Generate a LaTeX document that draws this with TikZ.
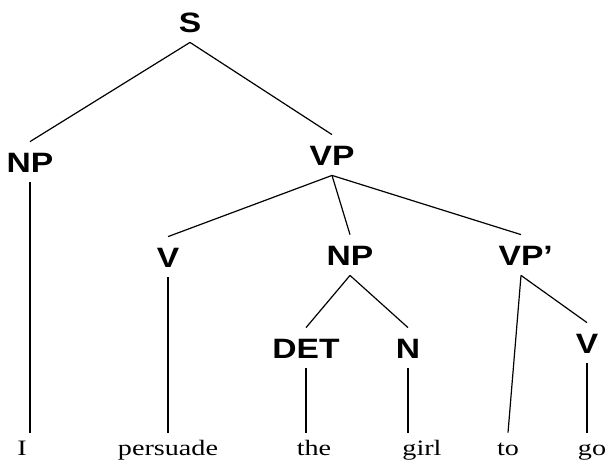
\documentclass[tikz,border=0pt]{standalone}
\usepackage{fontspec}
\newfontfamily\catfont[FakeStretch=1.2]{Liberation Sans}
\newfontfamily\wordfont[FakeStretch=1.28]{Liberation Serif}
\usepackage{tikz}
\tikzstyle{cat} = [font=\catfont\fontsize{14pt}{16pt}\selectfont\bfseries, text height=10pt, text depth=0pt, inner sep=5pt]
\tikzstyle{word} = [font=\wordfont\fontsize{11pt}{13pt}\selectfont, anchor=base, text height=7.5pt, text depth=2pt, inner sep=3.5pt]
\tikzstyle{branch} = [line width=0.6pt]

\begin{document}
\begin{tikzpicture}[x=0.5pt, y=-0.5pt]
  \useasboundingbox (0,0) rectangle (608,463);

  % Categories
  \node[cat] (s)   at (190,22)  {S};
  \node[cat] (np1) at (30,162)  {NP};
  \node[cat] (vp)  at (332,155) {VP};
  \node[cat] (v1)  at (168,257) {V};
  \node[cat] (np2) at (350,255) {NP};
  \node[cat] (vpp) at (521,255) {VP\rlap{’}};
  \node[cat] (det) at (306,348) {DET};
  \node[cat] (n)   at (408,348) {N};
  \node[cat] (v2)  at (587,343) {V};

  % Words
  \node[word] (i)        at (22,455)  {I};
  \node[word] (persuade) at (168,455) {persuade};
  \node[word] (the)      at (314,455) {the};
  \node[word] (girl)     at (422,455) {girl};
  \node[word] (to)       at (508,455) {to};
  \node[word] (go)       at (592,455) {go};

  % Branches
  \draw[branch] (s.south) -- (np1.north);
  \draw[branch] (s.south) -- (vp.north);
  \draw[branch] (np1.south) -- (np1.south |- i.north);
  \draw[branch] (vp.south) -- (v1.north);
  \draw[branch] (vp.south) -- (np2.north);
  \draw[branch] (vp.south) -- (vpp.north);
  \draw[branch] (v1.south) -- (persuade.north);
  \draw[branch] (np2.south) -- (det.north);
  \draw[branch] (np2.south) -- (n.north);
  \draw[branch] (det.south) -- (det.south |- the.north);
  \draw[branch] (n.south) -- (n.south |- girl.north);
  \draw[branch] (vpp.south) -- (to.north);
  \draw[branch] (vpp.south) -- (v2.north);
  \draw[branch] (v2.south) -- (v2.south |- go.north);
\end{tikzpicture}
\end{document}
